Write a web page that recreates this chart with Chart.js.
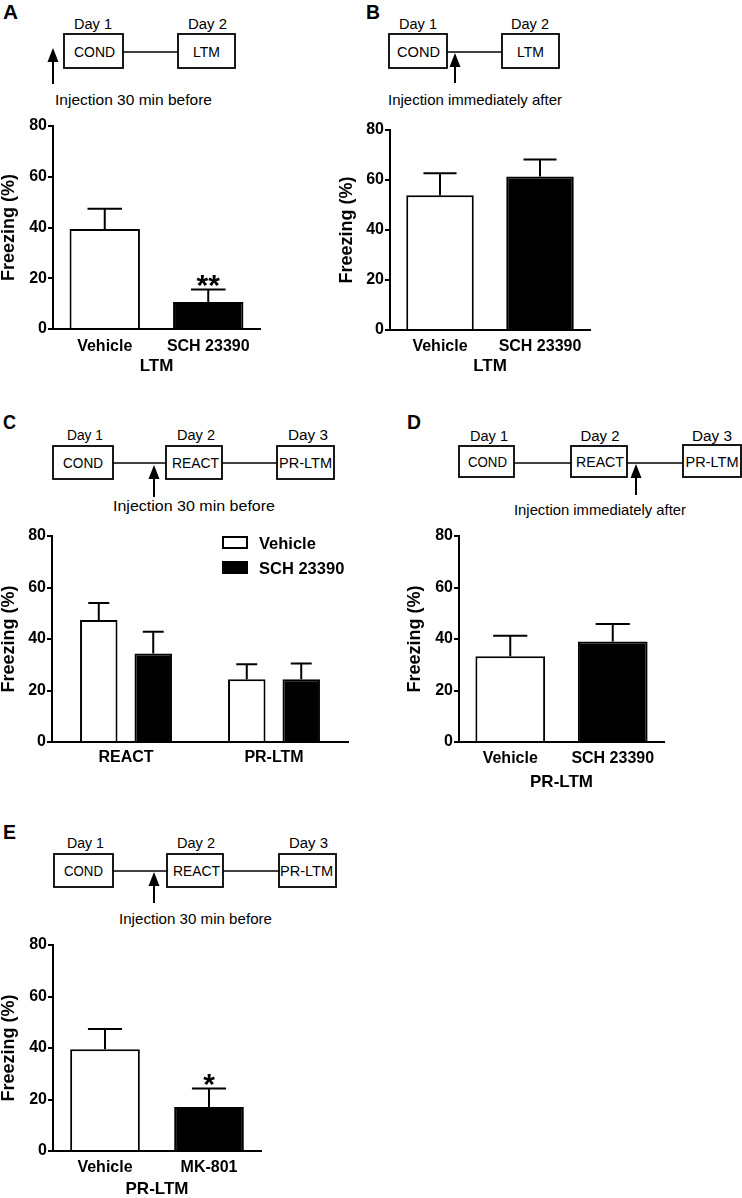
<!DOCTYPE html>
<html><head><meta charset="utf-8">
<script src="https://cdn.jsdelivr.net/npm/chart.js@4.4.1/dist/chart.umd.min.js"></script>
<style>
html,body{margin:0;padding:0;background:#fff;}
#fig{position:relative;width:742px;height:1198px;overflow:hidden;background:#fff;}
canvas{position:absolute;}
svg{position:absolute;left:0;top:0;}
</style></head><body><div id="fig">
<svg id="diag" width="742" height="1198" xmlns="http://www.w3.org/2000/svg"></svg>
<canvas id="cA"></canvas><canvas id="cB"></canvas><canvas id="cC"></canvas><canvas id="cD"></canvas><canvas id="cE"></canvas>
</div>
<script>
// ---------------- data ----------------
const yTicks = [0, 20, 40, 60, 80];
const yTitle = 'Freezing (%)';

const catsA = ['Vehicle', 'SCH 23390'];
const meanA = [39.4, 10.6];
const semA  = [8.0, 5.0];
const sigA  = ['', '**'];

const catsB = ['Vehicle', 'SCH 23390'];
const meanB = [53.9, 61.4];
const semB  = [8.8, 6.8];

const catsC = ['REACT', 'PR-LTM'];
const seriesC = ['Vehicle', 'SCH 23390'];
const vehC = [47.4, 24.4];
const vehSemC = [6.6, 5.8];
const schC = [34.4, 24.4];
const schSemC = [8.4, 6.1];

const catsD = ['Vehicle', 'SCH 23390'];
const meanD = [33.3, 39.0];
const semD  = [8.0, 6.8];

const catsE = ['Vehicle', 'MK-801'];
const meanE = [39.5, 17.1];
const semE  = [7.9, 7.2];
const sigE  = ['', '*'];

// ---------------- diagrams (SVG) ----------------
const FF = "'Liberation Sans', Arial, Helvetica, sans-serif";
let svg = '';
function T(s, x, y, size, anchor, len, bold) {
  svg += `<text x="${x}" y="${y}" font-family="${FF}" font-size="${size}" font-weight="${bold ? 'bold' : 'normal'}" text-anchor="${anchor}"` +
    (len ? ` textLength="${len}" lengthAdjust="spacingAndGlyphs"` : '') + ` fill="#000">${s}</text>`;
}
function R(x1, y1, x2, y2) { svg += `<rect x="${x1}" y="${y1}" width="${x2 - x1}" height="${y2 - y1}" fill="#fff" stroke="#000" stroke-width="1.8"/>`; }
function L(x1, x2, y) { svg += `<line x1="${x1}" y1="${y}" x2="${x2}" y2="${y}" stroke="#000" stroke-width="1.4"/>`; }
function A(x, tip, bottom) {
  svg += `<polygon points="${x},${tip} ${x - 5.5},${tip + 14} ${x + 5.5},${tip + 14}" fill="#000"/>`;
  svg += `<line x1="${x}" y1="${tip + 10}" x2="${x}" y2="${bottom}" stroke="#000" stroke-width="2"/>`;
}
const DS = 15.5, BS = 15.5, IS = 15;
// A
T('A', 3, 19, 20, 'start', 15, true);
T('Day 1', 93, 29, DS, 'middle', 38); T('Day 2', 207.5, 29, DS, 'middle', 39);
L(123, 178, 52);
R(64, 34, 123, 68); T('COND', 94.5, 56.5, BS, 'middle', 41);
R(178, 34, 235, 68); T('LTM', 206.5, 56.5, BS, 'middle', 27);
A(53, 48, 84);
T('Injection 30 min before', 55, 105, IS, 'start', 157);
// B
T('B', 366, 19, 20, 'start', 14, true);
T('Day 1', 418, 29, DS, 'middle', 38); T('Day 2', 530, 29, DS, 'middle', 38);
L(447, 502, 52);
R(389, 34, 447, 68); T('COND', 418.5, 56.5, BS, 'middle', 43);
R(502, 34, 559, 68); T('LTM', 530.5, 56.5, BS, 'middle', 27);
A(455, 53, 83);
T('Injection immediately after', 388, 105, IS, 'start', 174);
// C
T('C', 3, 429, 20, 'start', 13, true);
T('Day 1', 85, 440, DS, 'middle', 36); T('Day 2', 196, 440, DS, 'middle', 38); T('Day 3', 308, 440, DS, 'middle', 40);
L(113, 166, 463); L(222, 277, 463);
R(53, 446, 113, 479); T('COND', 83, 468, BS, 'middle', 40);
R(166, 446, 222, 479); T('REACT', 195.5, 468, BS, 'middle', 47);
R(277, 446, 334, 479); T('PR-LTM', 305.5, 468, BS, 'middle', 53);
A(154, 465, 497);
T('Injection 30 min before', 113, 511, IS, 'start', 162);
// D
T('D', 407, 429, 20, 'start', 14, true);
T('Day 1', 489, 441, DS, 'middle', 38); T('Day 2', 600, 441, DS, 'middle', 39); T('Day 3', 712, 441, DS, 'middle', 40);
L(514, 571, 463); L(627, 683, 463);
R(459, 446, 514, 477); T('COND', 487.5, 466.5, BS, 'middle', 39);
R(571, 446, 627, 477); T('REACT', 600, 466.5, BS, 'middle', 48);
R(683, 445, 741, 477); T('PR-LTM', 712, 466.5, BS, 'middle', 53);
A(636, 464, 495);
T('Injection immediately after', 514, 515, IS, 'start', 172);
// E
T('E', 3, 839, 20, 'start', 13, true);
T('Day 1', 85.5, 848, DS, 'middle', 37); T('Day 2', 196, 848, DS, 'middle', 38); T('Day 3', 308.5, 848, DS, 'middle', 39);
L(113, 167, 871); L(223, 279, 871);
R(54, 854, 113, 887); T('COND', 83.5, 876, BS, 'middle', 39);
R(167, 854, 223, 887); T('REACT', 196.5, 876, BS, 'middle', 47);
R(279, 854, 336, 887); T('PR-LTM', 306.5, 876, BS, 'middle', 53);
A(154, 872, 903);
T('Injection 30 min before', 119, 924, IS, 'start', 153);
document.getElementById('diag').innerHTML = svg;

// ---------------- charts ----------------
Chart.defaults.font.family = FF;
Chart.defaults.color = '#000';

const errPlugin = {
  id: 'errorBars',
  afterDatasetsDraw(chart, args, opts) {
    const ctx = chart.ctx, ys = chart.scales.y;
    chart.data.datasets.forEach((ds, di) => {
      const meta = chart.getDatasetMeta(di);
      meta.data.forEach((bar, i) => {
        const v = ds.data[i], e = ds.sem[i];
        const yTop = ys.getPixelForValue(v), yErr = ys.getPixelForValue(v + e);
        const half = bar.width * opts.cap;
        ctx.save();
        ctx.strokeStyle = '#000'; ctx.lineWidth = 2;
        ctx.beginPath();
        ctx.moveTo(bar.x, yTop); ctx.lineTo(bar.x, yErr);
        ctx.moveTo(bar.x - half, yErr); ctx.lineTo(bar.x + half, yErr);
        ctx.stroke();
        if (ds.sig && ds.sig[i]) {
          ctx.fillStyle = '#000';
          ctx.font = 'bold 30px ' + FF;
          ctx.textAlign = 'center'; ctx.textBaseline = 'alphabetic';
          ctx.fillText(ds.sig[i], bar.x, yErr + 6);
        }
        ctx.restore();
      });
    });
  }
};

const legendPlugin = {
  id: 'boxLegend',
  afterDraw(chart, args, opts) {
    if (!opts.show) return;
    const ctx = chart.ctx;
    chart.data.datasets.forEach((ds, i) => {
      const y = opts.y + i * opts.gap;
      ctx.save();
      ctx.fillStyle = ds.backgroundColor; ctx.strokeStyle = '#000'; ctx.lineWidth = 2;
      ctx.fillRect(opts.x, y, opts.w, opts.h); ctx.strokeRect(opts.x, y, opts.w, opts.h);
      ctx.fillStyle = '#000'; ctx.font = 'bold 16.5px ' + FF;
      ctx.textAlign = 'left'; ctx.textBaseline = 'alphabetic';
      ctx.fillText(ds.label, opts.tx, y + opts.h + 0.5);
      ctx.restore();
    });
  }
};

function panel(p) {
  const fy = 18;                    // y-title font size (lineHeight 1)
  const fx = 16, lhx = fx * 1.2;    // category labels
  const ft = 17, lht = ft * 1.2;    // x title
  const cx = Math.floor(p.ytx - fy / 2) - 1;
  const cy = p.area.t - 20;
  const wy = p.area.l - cx;
  const ytpad = p.ytx - cx - fy / 2;
  const pr = 40;
  const cw = p.area.r + pr - cx;
  const xpad = p.xly - p.area.b - lhx / 2;
  const sb = p.xTitle ? p.xty + lht / 2 : p.xly + 15;
  const hx = sb - p.area.b;
  const pb = 6;
  const ch = Math.ceil(sb + pb - cy);
  const padB = ch - (sb - cy);
  const c = document.getElementById(p.id);
  c.width = cw; c.height = ch;
  c.style.left = cx + 'px'; c.style.top = cy + 'px';
  c.style.width = cw + 'px'; c.style.height = ch + 'px';
  const lg = p.legend ? Object.assign({ show: true }, p.legend, {
    x: p.legend.x - cx, y: p.legend.y - cy, tx: p.legend.tx - cx }) : { show: false };
  return new Chart(c, {
    type: 'bar',
    data: { labels: p.labels, datasets: p.datasets },
    options: {
      responsive: false, animation: false, devicePixelRatio: 1,
      layout: { padding: { left: 0, top: 20, right: pr, bottom: padB } },
      plugins: { legend: { display: false }, tooltip: { enabled: false }, errorBars: { cap: p.cap }, boxLegend: lg },
      datasets: { bar: { barPercentage: p.bp, categoryPercentage: p.cp, borderWidth: 2, borderColor: '#000', borderSkipped: 'start' } },
      scales: {
        x: {
          grid: { display: false, drawTicks: false, tickLength: 0 },
          border: { display: true, color: '#000', width: 2 },
          ticks: { color: '#000', font: { size: fx, weight: 'bold', lineHeight: 1.2 }, padding: xpad, maxRotation: 0, autoSkip: false },
          title: { display: !!p.xTitle, text: p.xTitle || '', color: '#000', font: { size: ft, weight: 'bold', lineHeight: 1.2 }, padding: 0 },
          afterFit: s => { s.height = hx; }
        },
        y: {
          min: 0, max: 80,
          afterBuildTicks: s => { s.ticks = yTicks.map(v => ({ value: v })); },
          ticks: { color: '#000', font: { size: 16, weight: 'bold' }, padding: 1 },
          grid: { display: true, drawOnChartArea: false, drawTicks: true, tickLength: 5, color: '#000', lineWidth: 2 },
          border: { display: true, color: '#000', width: 2 },
          title: { display: true, text: yTitle, color: '#000', font: { size: fy, weight: 'bold', lineHeight: 1 }, padding: { top: ytpad, bottom: 0 } },
          afterFit: s => { s.width = wy; }
        }
      }
    },
    plugins: [errPlugin, legendPlugin]
  });
}

const WB = ['#ffffff', '#000000'];

panel({ id: 'cA', area: { l: 53, t: 126, r: 260, b: 329 }, ytx: 9, xly: 347, xty: 366, xTitle: 'LTM',
  labels: catsA, bp: 0.68, cp: 1, cap: 0.245,
  datasets: [{ label: 'LTM', data: meanA, sem: semA, sig: sigA, backgroundColor: WB }] });

panel({ id: 'cB', area: { l: 390, t: 130, r: 590, b: 330 }, ytx: 347, xly: 347, xty: 366, xTitle: 'LTM',
  labels: catsB, bp: 0.675, cp: 1, cap: 0.245,
  datasets: [{ label: 'LTM', data: meanB, sem: semB, backgroundColor: WB }] });

panel({ id: 'cC', area: { l: 52, t: 536, r: 348, b: 742 }, ytx: 9, xly: 758, xTitle: null,
  labels: catsC, bp: 0.688, cp: 0.736, cap: 0.28,
  legend: { x: 223, y: 537, w: 24, h: 11, gap: 25, tx: 259 },
  datasets: [
    { label: seriesC[0], data: vehC, sem: vehSemC, backgroundColor: '#ffffff' },
    { label: seriesC[1], data: schC, sem: schSemC, backgroundColor: '#000000' }
  ] });

panel({ id: 'cD', area: { l: 459, t: 536, r: 664, b: 742 }, ytx: 415, xly: 759, xty: 782, xTitle: 'PR-LTM',
  labels: catsD, bp: 0.68, cp: 1, cap: 0.245,
  datasets: [{ label: 'PR-LTM', data: meanD, sem: semD, backgroundColor: WB }] });

panel({ id: 'cE', area: { l: 53, t: 945, r: 261, b: 1151 }, ytx: 9, xly: 1168, xty: 1189, xTitle: 'PR-LTM',
  labels: catsE, bp: 0.67, cp: 1, cap: 0.245,
  datasets: [{ label: 'PR-LTM', data: meanE, sem: semE, sig: sigE, backgroundColor: WB }] });
</script>
</body></html>
